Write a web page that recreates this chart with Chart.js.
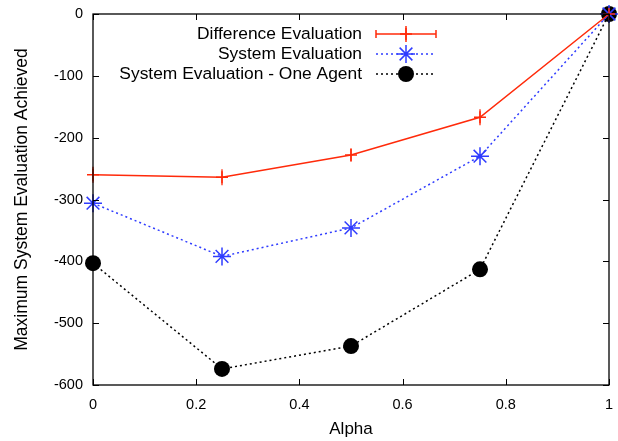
<!DOCTYPE html>
<html><head><meta charset="utf-8">
<script src="https://cdn.jsdelivr.net/npm/chart.js@4"></script>
<style>html,body{margin:0;padding:0;background:#fff}#wrap{width:618px;height:441px}</style>
</head><body><div id="wrap"><canvas id="c" width="618" height="441"></canvas></div>
<script>
const alpha = [0, 0.25, 0.5, 0.75, 1];
const diffEval = [-260, -264, -228, -167, 0];
const diffErr = [13, 13, 11, 13, 0];
const sysEval = [-306, -392, -346, -230, 0];
const sysOneAgent = [-403, -574, -537, -413, 0];
const seriesNames = ['Difference Evaluation', 'System Evaluation', 'System Evaluation - One Agent'];
const xTicks = [0, 0.2, 0.4, 0.6, 0.8, 1];
const yTicks = [-600, -500, -400, -300, -200, -100, 0];

const FONT = 'Liberation Sans, Arial, Helvetica, sans-serif';
const pts = arr => alpha.map((a, i) => ({x: a, y: arr[i]}));

const boxPlugin = {
  id: 'box',
  afterDatasetsDraw(chart) {
    const {ctx, chartArea: a, scales} = chart;
    ctx.save();
    // error bars for dataset 0
    ctx.strokeStyle = '#ff2a0a'; ctx.lineWidth = 1.3;
    alpha.forEach((x, i) => {
      if (!diffErr[i]) return;
      const px = scales.x.getPixelForValue(x);
      const y1 = scales.y.getPixelForValue(diffEval[i] - diffErr[i]);
      const y2 = scales.y.getPixelForValue(diffEval[i] + diffErr[i]);
      ctx.beginPath(); ctx.moveTo(px, y1); ctx.lineTo(px, y2); ctx.stroke();
    });
    // frame + inward ticks
    ctx.strokeStyle = '#000'; ctx.lineWidth = 1.3;
    ctx.strokeRect(a.left, a.top, a.right - a.left, a.bottom - a.top);
    ctx.lineWidth = 1;
    const T = 6;
    xTicks.forEach(v => {
      const px = Math.round(scales.x.getPixelForValue(v)) + 0.5;
      ctx.beginPath(); ctx.moveTo(px, a.bottom); ctx.lineTo(px, a.bottom - T);
      ctx.moveTo(px, a.top); ctx.lineTo(px, a.top + T); ctx.stroke();
    });
    yTicks.forEach(v => {
      const py = Math.round(scales.y.getPixelForValue(v)) + 0.5;
      ctx.beginPath(); ctx.moveTo(a.left, py); ctx.lineTo(a.left + T, py);
      ctx.moveTo(a.right, py); ctx.lineTo(a.right - T, py); ctx.stroke();
    });
    // legend
    const styles = [
      {color: '#ff2a0a', dash: [], marker: 'cross', r: 6},
      {color: '#2f3cff', dash: [2, 3], marker: 'star', r: 9},
      {color: '#000', dash: [2, 3], marker: 'circle', r: 8}
    ];
    ctx.font = '17.4px ' + FONT;
    ctx.textAlign = 'right'; ctx.textBaseline = 'middle';
    const textX = 362, x1 = 376, x2 = 436, mx = 406;
    seriesNames.forEach((name, i) => {
      const y = 34 + i * 20;
      const s = styles[i];
      ctx.fillStyle = '#000';
      ctx.fillText(name, textX, y);
      ctx.strokeStyle = s.color; ctx.lineWidth = 1.5;
      ctx.setLineDash(s.dash);
      ctx.beginPath(); ctx.moveTo(x1, y); ctx.lineTo(x2, y); ctx.stroke();
      ctx.setLineDash([]);
      if (i === 0) {
        ctx.beginPath();
        ctx.moveTo(x1, y - 4); ctx.lineTo(x1, y + 4);
        ctx.moveTo(x2, y - 4); ctx.lineTo(x2, y + 4);
        ctx.moveTo(mx, y - 8); ctx.lineTo(mx, y + 8);
        ctx.stroke();
      }
      ctx.fillStyle = s.color;
      if (s.marker === 'circle') { ctx.beginPath(); ctx.arc(mx, y, s.r, 0, Math.PI * 2); ctx.fill(); }
      else { ctx.strokeStyle = s.color; Chart.helpers.drawPoint(ctx, {pointStyle: s.marker, radius: s.r, borderWidth: 1.5, rotation: 0}, mx, y); }
    });
    ctx.restore();
  }
};

new Chart(document.getElementById('c'), {
  type: 'line',
  data: {
    datasets: [
      {label: seriesNames[0], data: pts(diffEval), borderColor: '#ff2a0a', backgroundColor: '#ff2a0a',
       borderWidth: 1.5, pointStyle: 'cross', pointRadius: 6, pointBorderWidth: 1.5},
      {label: seriesNames[1], data: pts(sysEval), borderColor: '#2f3cff', backgroundColor: '#2f3cff',
       borderWidth: 1.5, borderDash: [2, 3], pointStyle: 'star', pointRadius: 9, pointBorderWidth: 1.5},
      {label: seriesNames[2], data: pts(sysOneAgent), borderColor: '#000', backgroundColor: '#000',
       borderWidth: 1.5, borderDash: [2, 3], pointStyle: 'circle', pointRadius: 8, pointBorderWidth: 0}
    ]
  },
  options: {
    responsive: false, animation: false, clip: false,
    layout: {padding: {top: 14, right: 9, left: 0, bottom: 0}, autoPadding: false},
    plugins: {legend: {display: false}, tooltip: {enabled: false}},
    scales: {
      x: {type: 'linear', min: 0, max: 1,
        afterBuildTicks: s => { s.ticks = xTicks.map(v => ({value: v})); },
        afterFit: s => { s.height = 56; s.paddingLeft = 0; s.paddingRight = 0; },
        grid: {display: false, drawTicks: false}, border: {display: false},
        ticks: {color: '#000', font: {family: FONT, size: 14.5}, padding: 11, maxRotation: 0,
          callback: v => String(v)},
        title: {display: true, text: 'Alpha', color: '#000', font: {family: FONT, size: 17}, padding: {top: 0, bottom: 1}}
      },
      y: {type: 'linear', min: -600, max: 0,
        afterBuildTicks: s => { s.ticks = yTicks.map(v => ({value: v})); },
        afterFit: s => { s.width = 93; s.paddingTop = 0; s.paddingBottom = 0; },
        grid: {display: false, drawTicks: false}, border: {display: false},
        ticks: {color: '#000', font: {family: FONT, size: 14.5}, padding: 10, callback: v => String(v)},
        title: {display: true, text: 'Maximum System Evaluation Achieved', color: '#000',
          font: {family: FONT, size: 17.5}, padding: {top: 12, bottom: 0}}
      }
    }
  },
  plugins: [boxPlugin]
});
</script></body></html>
